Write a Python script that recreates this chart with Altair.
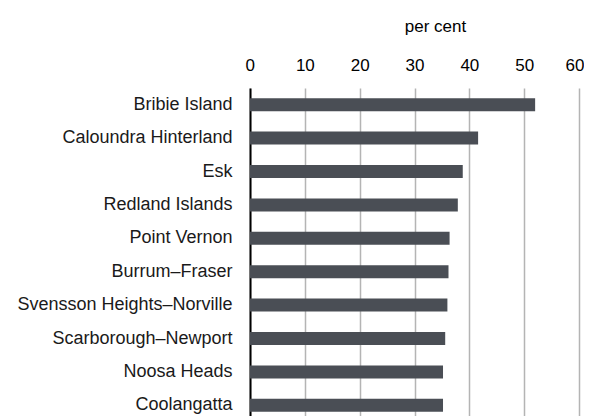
import altair as alt
import pandas as pd

regions = ["Bribie Island", "Caloundra Hinterland", "Esk", "Redland Islands",
           "Point Vernon", "Burrum\u2013Fraser", "Svensson Heights\u2013Norville",
           "Scarborough\u2013Newport", "Noosa Heads", "Coolangatta"]
values = [52.0, 41.6, 38.8, 37.9, 36.4, 36.2, 36.0, 35.6, 35.2, 35.2]
x_ticks = [0, 10, 20, 30, 40, 50, 60]

df = pd.DataFrame({"region": regions, "value": values})

chart = alt.Chart(df).mark_bar(color="#4a4e55").encode(
    x=alt.X("value:Q",
            scale=alt.Scale(domain=[0, 60], nice=False),
            axis=alt.Axis(orient="top", values=x_ticks, title="per cent",
                          domain=False, ticks=False, grid=True,
                          gridColor="#b4b4b4", gridWidth=1.5,
                          labelFont="Liberation Sans", labelFontSize=17,
                          labelColor="#000000", labelPadding=14,
                          labelFlush=True, labelFlushOffset=5,
                          labelOverlap=False,
                          titleFont="Liberation Sans", titleFontSize=17,
                          titleFontWeight="normal", titleColor="#000000",
                          titlePadding=21, titleX=185, titleAlign="center")),
    y=alt.Y("region:N", sort=regions,
            scale=alt.Scale(range=[0, 334], paddingInner=0.61, paddingOuter=0.305),
            axis=alt.Axis(title=None, ticks=False, domain=True,
                          domainColor="#000000", domainWidth=2,
                          labelFont="Liberation Sans", labelFontSize=18,
                          labelColor="#1a1a1a", labelPadding=18,
                          labelLimit=300)),
).properties(
    width=329, height=328,
    autosize=alt.AutoSizeParams(type="none"),
    padding={"left": 242, "top": 80, "right": 5, "bottom": 0},
).configure_view(stroke=None)

chart.save("out.html", embed_options={"renderer": "svg", "actions": False})
